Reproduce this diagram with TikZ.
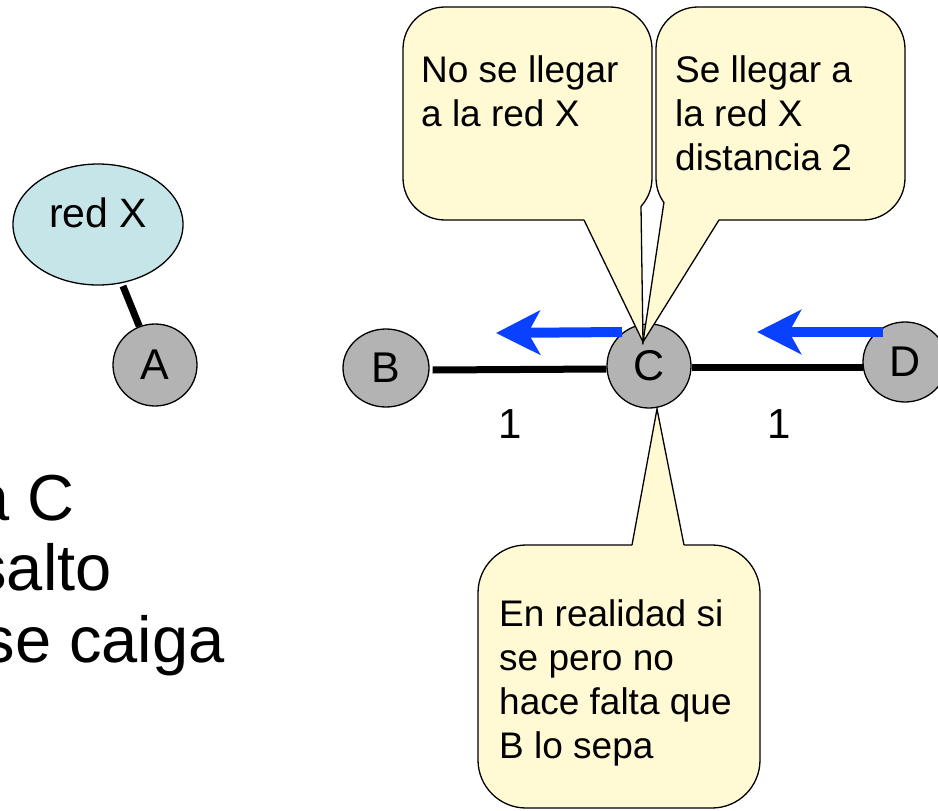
\documentclass[tikz,border=0pt]{standalone}
\usepackage{fontspec}
\setmainfont{Liberation Sans}
\usetikzlibrary{shapes.geometric,arrows.meta,backgrounds,calc}
\definecolor{nodegray}{RGB}{179,179,179}
\definecolor{netcyan}{RGB}{197,229,232}
\definecolor{callyellow}{RGB}{255,249,212}
\definecolor{arrowblue}{RGB}{10,64,255}
\begin{document}
\begin{tikzpicture}[x=1pt,y=-1pt,
  vert/.style={ellipse, draw, fill=nodegray, line width=1.3pt, inner sep=0pt,
    font=\fontsize{43}{50}\selectfont},
  netell/.style={ellipse, draw, fill=netcyan, line width=1.3pt, inner sep=0pt,
    minimum width=170pt, minimum height=121pt, text height=30pt, text depth=25pt,
    font=\fontsize{41}{50}\selectfont},
  edgeline/.style={line width=7pt},
  bluearrow/.style={draw=arrowblue, line width=10pt,
    -{Stealth[length=44pt,width=44pt,inset=12pt,fill=arrowblue]}},
  callbox/.style={fill=callyellow, draw, line width=1.3pt},
  calltail/.style={draw, line width=1.3pt, line join=miter},
  ctext/.style={align=left, inner sep=0pt, font=\fontsize{37}{44}\selectfont, anchor=base west},
  bigtext/.style={inner sep=0pt, font=\fontsize{65}{72}\selectfont, anchor=base east},
  weight/.style={inner sep=0pt, font=\fontsize{42}{50}\selectfont, anchor=base}
]
\useasboundingbox (0,0) rectangle (938,811);
\clip (0,0) rectangle (938,811);

% left part
\node[netell] (redX) at (98,224.5) {red X};
\node[vert, minimum width=84pt, minimum height=82pt] (A) at (155,365) {A};
\draw[edgeline, shorten <=3pt] (redX) -- (A);

\node[bigtext] (l1) at (75,520) {a C};
\node[bigtext] (l2) at (112,590) {salto};
\node[bigtext] (l3) at (225,662) {se caiga};

% right part
\node[vert, minimum width=86pt, minimum height=78pt] (B) at (386,368) {B};
\node[vert, minimum width=84pt, minimum height=84pt] (C) at (649,366) {C};
\node[vert, minimum width=84pt, minimum height=80pt] (D) at (905,362) {D};
\begin{scope}[on background layer]
\draw[edgeline] ($(B.east)+(3,2)$) -- ($(C.west)+(0,3)$);
\draw[edgeline] ($(C.east)+(0,1.5)$) -- ($(D.west)+(1,5.5)$);
\end{scope}

\node[weight] (w1) at (510,438) {1};
\node[weight] (w2) at (779,438) {1};

\coordinate (a1s) at (622,332);
\coordinate (a1e) at (496,333);
\coordinate (a2s) at (883,332);
\coordinate (a2e) at (757,332);
\draw[bluearrow] (a1s) -- (a1e);
\draw[bluearrow] (a2s) -- (a2e);

% callout 1
\coordinate (tip1) at (643,342);
\draw[callbox, rounded corners=42pt] (403,7) rectangle (652,220);
\fill[callyellow] (tip1) -- (584,220) -- (590,210) -- (628,196) -- (641,206) -- cycle;
\draw[calltail] (584,220) -- (tip1) -- (641,206);
\node[ctext] (t1) at (421,126) {No se llegar\\a la red X};

% callout 2
\draw[callbox, rounded corners=42pt] (656,7) rectangle (905,220);
\fill[callyellow] (tip1) -- (664,202) -- (676,195) -- (712,208) -- (719,220) -- cycle;
\draw[calltail] (664,202) -- (tip1) -- (719,220);
\node[ctext] (t2) at (675,170) {Se llegar a\\la red X\\distancia 2};

% callout 3
\coordinate (tip3) at (657,409);
\draw[callbox, rounded corners=48pt] (478,545) rectangle (760,808);
\fill[callyellow] (tip3) -- (632,545) -- (632,552) -- (684,552) -- (684,545) -- cycle;
\draw[calltail] (632,545) -- (tip3) -- (684,545);
\node[ctext] (t3) at (499,758) {En realidad si\\se pero no\\hace falta que\\B lo sepa};
\end{tikzpicture}
\end{document}
